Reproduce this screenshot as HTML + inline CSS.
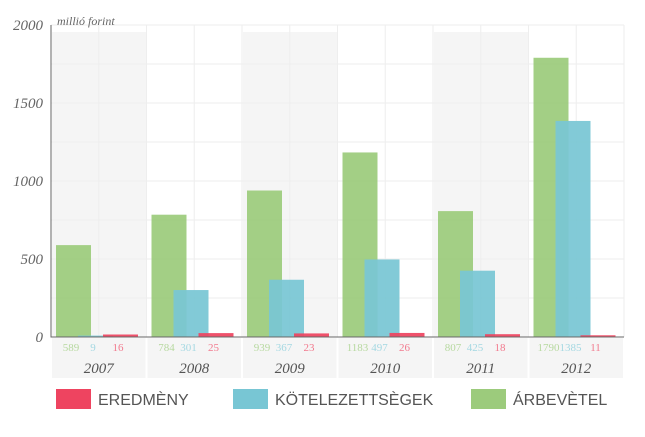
<!DOCTYPE html>
<html><head><meta charset="utf-8"><style>
body{margin:0;background:#fff;width:645px;height:432px;overflow:hidden;font-family:"Liberation Serif",serif}
svg text{font-family:"Liberation Serif",serif}
.lg{font-family:"Liberation Sans",sans-serif;font-size:16px;fill:#555}
</style></head><body>
<svg width="645" height="432" xmlns="http://www.w3.org/2000/svg" id="s">
</svg>
<script>
const years=["2007","2008","2009","2010","2011","2012"];
const arbevetel=[589,784,939,1183,807,1790];
const kotelezettsegek=[9,301,367,497,425,1385];
const eredmeny=[16,25,23,26,18,11];
const yTicks=[0,500,1000,1500,2000];
const s=document.getElementById('s');
const NS="http://www.w3.org/2000/svg";
const x0=51,x1=624,y0=337,yTop=25;
const gw=(x1-x0)/years.length;
function y(v){return y0-(v/2000)*(y0-yTop);}
function mk(t,a,p){const e=document.createElementNS(NS,t);for(const k in a)e.setAttribute(k,a[k]);(p||s).appendChild(e);return e;}
// shading
years.forEach((yr,i)=>{
  const gx=x0+i*gw;
  if(i%2==0){const r=mk('rect',{x:gx+1,y:32,width:gw-1,height:y0-32,fill:'#f5f5f5'});
  }
  const b=mk('rect',{x:gx+1,y:y0+1,width:gw-2,height:40,fill:'#f5f5f5'});
  
});
// grid
for(let v=250;v<=2000;v+=250){const l=mk('line',{x1:x0,x2:x1,y1:y(v),y2:y(v),stroke:'#eeeeee','stroke-width':1});
}
for(let i=1;i<=years.length*2;i++){const gx=x0+i*gw/2;const l=mk('line',{x1:gx,x2:gx,y1:yTop,y2:y0,stroke:'#eeeeee','stroke-width':1});
}
yTicks.forEach(v=>{const t=mk('text',{x:43,y:y(v)+5,'text-anchor':'end','font-size':15,'font-style':'italic',fill:'#666'});t.textContent=v;
});
const u=mk('text',{x:57,y:25,'font-size':12,'font-style':'italic',fill:'#666'});u.textContent='millió forint';

const series=[[arbevetel,'#9ccb7c','#b7d9a0',5,'arbevetel'],[kotelezettsegek,'#78c6d4','#a4d8e2',27,'kotelezettsegek'],[eredmeny,'#ee4460','#f27a8e',52,'eredmeny']];
series.forEach(([d,c,lc,off,n])=>{
  d.forEach((v,i)=>{
    const gx=x0+i*gw+off;
    const r=mk('rect',{x:gx,y:y(v),width:35,height:y0-y(v),fill:c,opacity:0.93});
    
    const t=mk('text',{x:gx+15,y:351,'text-anchor':'middle','font-size':11,fill:lc,'font-family':'Liberation Sans'});t.textContent=v;
    
  });
});
years.forEach((yr,i)=>{const t=mk('text',{x:x0+i*gw+gw/2,y:373,'text-anchor':'middle','font-size':15,'font-style':'italic',fill:'#555'});t.textContent=yr;
});
const ax=mk('path',{d:`M${x0} ${yTop}V${y0}H${x1}`,stroke:'#666',fill:'none','stroke-width':1});

[['EREDMÈNY','#ee4460',56],['KÖTELEZETTSÈGEK','#78c6d4',233],['ÁRBEVÈTEL','#9ccb7c',471]].forEach(([l,c,lx])=>{
  const g=mk('g',{});
  mk('rect',{x:lx,y:389,width:35,height:20,fill:c},g);
  const t=mk('text',{x:lx+42,y:405,class:'lg'},g);t.textContent=l;
});
</script>
</body></html>
